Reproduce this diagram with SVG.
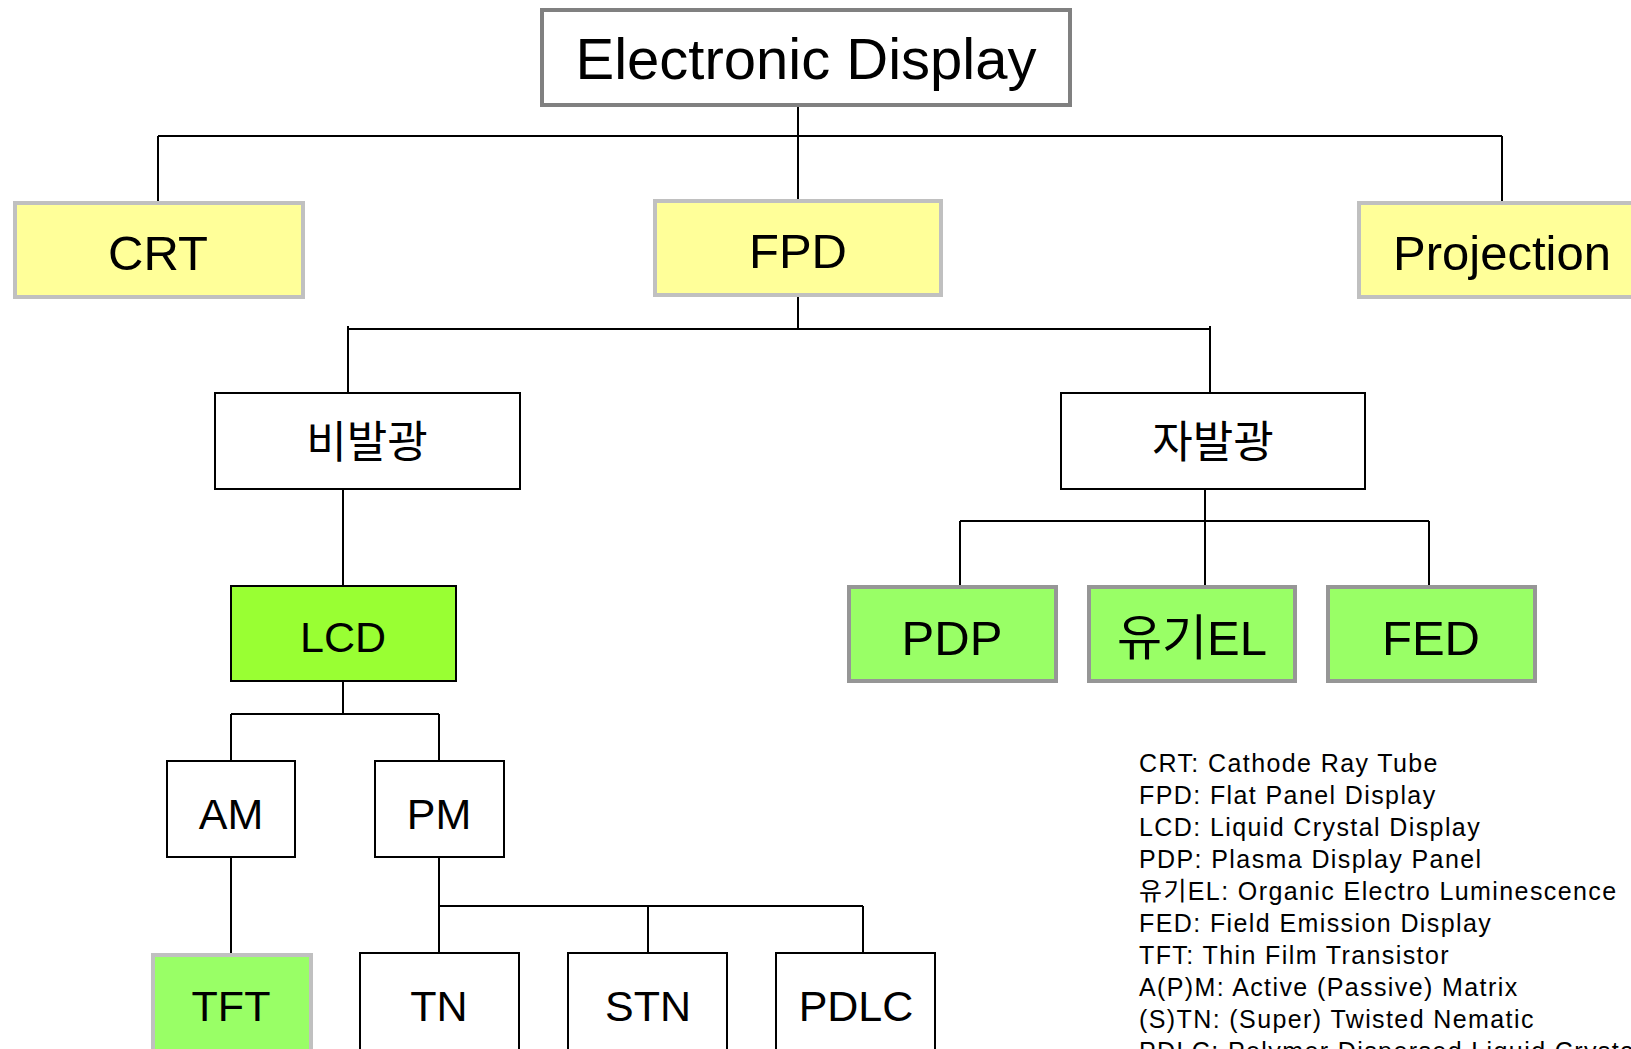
<svg xmlns="http://www.w3.org/2000/svg" width="1631" height="1049" viewBox="0 0 1631 1049">
<style>
text{font-family:"Liberation Sans","Noto Sans CJK KR",sans-serif;fill:#000;text-anchor:middle}
.wire{stroke:#000;stroke-width:2;fill:none}
.yel{fill:#FFFF99;stroke:#C0C0C0;stroke-width:4}
.grn{fill:#99FF66;stroke:#969696;stroke-width:4}
.grnl{fill:#99FF66;stroke:#C0C0C0;stroke-width:4}
.lcd{fill:#99FF33;stroke:#000;stroke-width:2}
.wht{fill:#fff;stroke:#000;stroke-width:2}
.t1{font-size:49px}
.t2{font-size:44px}
.t3{font-size:43px}
.leg{font-size:25px;text-anchor:start;letter-spacing:1.4px}
</style>
<rect width="1631" height="1049" fill="#fff"/>
<g id="connectors">
<path class="wire" d="M798 106V136M158 136H1502M158 136V201M798 136V199M1502 136V201"/>
<path class="wire" d="M798 296V329M348 329H1210M348 326V393M1210 326V393"/>
<path class="wire" d="M343 489V586M1205 489V521M960 521H1429M960 521V585M1205 521V585M1429 521V585"/>
<path class="wire" d="M343 681V714M231 714H439M231 714V761M439 714V761"/>
<path class="wire" d="M231 857V953M439 857V953M439 906H863M648 906V953M863 906V953"/>
</g>
<g id="electronic-display"><rect x="542" y="10" width="528" height="95" fill="#fff" stroke="#808080" stroke-width="4"/><text x="806" y="79" style="font-size:58px">Electronic Display</text></g>
<g id="crt"><rect class="yel" x="15" y="203" width="288" height="94"/><text class="t1" x="158" y="270">CRT</text></g>
<g id="fpd"><rect class="yel" x="655" y="201" width="286" height="94"/><text class="t1" x="798" y="268">FPD</text></g>
<g id="projection"><rect class="yel" x="1359" y="203" width="290" height="94"/><text class="t1" x="1502" y="270">Projection</text></g>
<g id="non-emissive"><rect class="wht" x="215" y="393" width="305" height="96"/><text class="t2" x="367" y="458">비발광</text></g>
<g id="emissive"><rect class="wht" x="1061" y="393" width="304" height="96"/><text class="t2" x="1213" y="458">자발광</text></g>
<g id="lcd"><rect class="lcd" x="231" y="586" width="225" height="95"/><text class="t3" x="343" y="652">LCD</text></g>
<g id="pdp"><rect class="grn" x="849" y="587" width="207" height="94"/><text class="t1" x="952" y="655">PDP</text></g>
<g id="oled"><rect class="grn" x="1089" y="587" width="206" height="94"/><text class="t1" x="1192" y="655">유기EL</text></g>
<g id="fed"><rect class="grn" x="1328" y="587" width="207" height="94"/><text class="t1" x="1431" y="655">FED</text></g>
<g id="am"><rect class="wht" x="167" y="761" width="128" height="96"/><text class="t3" x="231" y="829">AM</text></g>
<g id="pm"><rect class="wht" x="375" y="761" width="129" height="96"/><text class="t3" x="439" y="829">PM</text></g>
<g id="tft"><rect class="grnl" x="153" y="955" width="158" height="110"/><text class="t3" x="231" y="1021">TFT</text></g>
<g id="tn"><rect class="wht" x="360" y="953" width="159" height="110"/><text class="t3" x="439" y="1021">TN</text></g>
<g id="stn"><rect class="wht" x="568" y="953" width="159" height="110"/><text class="t3" x="648" y="1021">STN</text></g>
<g id="pdlc"><rect class="wht" x="776" y="953" width="159" height="110"/><text class="t3" x="856" y="1021">PDLC</text></g>
<g id="legend">
<text class="leg" x="1139" y="772">CRT: Cathode Ray Tube</text>
<text class="leg" x="1139" y="804">FPD: Flat Panel Display</text>
<text class="leg" x="1139" y="836">LCD: Liquid Crystal Display</text>
<text class="leg" x="1139" y="868">PDP: Plasma Display Panel</text>
<text class="leg" x="1139" y="900">유기EL: Organic Electro Luminescence</text>
<text class="leg" x="1139" y="932">FED: Field Emission Display</text>
<text class="leg" x="1139" y="964">TFT: Thin Film Transistor</text>
<text class="leg" x="1139" y="996">A(P)M: Active (Passive) Matrix</text>
<text class="leg" x="1139" y="1028">(S)TN: (Super) Twisted Nematic</text>
<text class="leg" x="1139" y="1060">PDLC: Polymer Dispersed Liquid Crystal</text>
</g>
</svg>
